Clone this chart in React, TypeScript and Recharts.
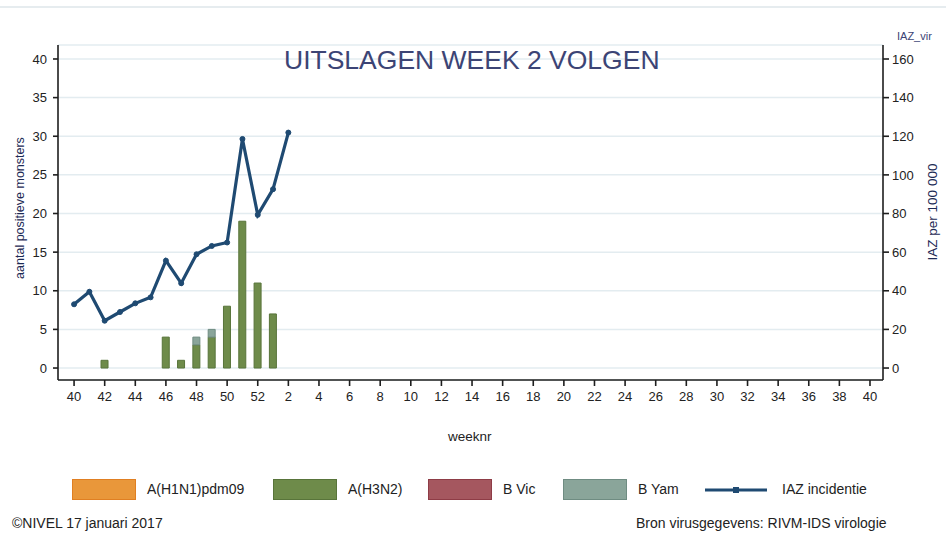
import { ComposedChart, Bar, Line, XAxis, YAxis, CartesianGrid } from "recharts";

// weeknummers van seizoen 2016/2017 (week 40 t/m week 40)
const weeks = [
  40, 41, 42, 43, 44, 45, 46, 47, 48, 49, 50, 51, 52, 1, 2, 3, 4, 5, 6, 7, 8, 9,
  10, 11, 12, 13, 14, 15, 16, 17, 18, 19, 20, 21, 22, 23, 24, 25, 26, 27, 28,
  29, 30, 31, 32, 33, 34, 35, 36, 37, 38, 39, 40,
];

// aantal positieve monsters per week (week 40 t/m week 2)
const h1n1 = [0, 0, 0, 0, 0, 0, 0, 0, 0, 0, 0, 0, 0, 0, 0];
const h3n2 = [0, 0, 1, 0, 0, 0, 4, 1, 3, 4, 8, 19, 11, 7, 0];
const bVic = [0, 0, 0, 0, 0, 0, 0, 0, 0, 0, 0, 0, 0, 0, 0];
const bYam = [0, 0, 0, 0, 0, 0, 0, 0, 1, 1, 0, 0, 0, 0, 0];

// IAZ incidentie per 100 000
const iaz = [
  33, 39.5, 24.5, 29, 33.5, 36.6, 55.6, 43.9, 58.9, 63.2, 65, 118.6, 79.3,
  92.6, 121.9,
];

const leftTicks = [0, 5, 10, 15, 20, 25, 30, 35, 40];
const rightTicks = [0, 20, 40, 60, 80, 100, 120, 140, 160];

const NAVY = "#1f4a72";
const FONT = "'Liberation Sans', Arial, sans-serif";
const TEXT = "#222";

const data = weeks.map((w, i) => ({
  pos: i,
  week: w,
  h1n1: i < h1n1.length ? h1n1[i] : null,
  h3n2: i < h3n2.length ? h3n2[i] : null,
  bVic: i < bVic.length ? bVic[i] : null,
  bYam: i < bYam.length ? bYam[i] : null,
  iaz: i < iaz.length ? iaz[i] : null,
}));

const xTicks = weeks.map((_, i) => i).filter((i) => i % 2 === 0);

const legendItems = [
  { name: "A(H1N1)pdm09", fill: "#e9973a", stroke: "#e07f22", left: 72 },
  { name: "A(H3N2)", fill: "#6e8b4a", stroke: "#58743a", left: 273 },
  { name: "B Vic", fill: "#a5575f", stroke: "#8e3c46", left: 428 },
  { name: "B Yam", fill: "#8aa59a", stroke: "#6f8c82", left: 563 },
];

const tickStyle = { fill: TEXT, fontSize: 13, fontFamily: FONT };
const axisLine = { stroke: "#1e1e1e", strokeWidth: 1.6 };

export default function App() {
  return (
    <div
      style={{
        position: "absolute",
        left: 0,
        top: 0,
        width: 946,
        height: 533,
        background: "#fff",
        fontFamily: FONT,
        color: TEXT,
      }}
    >
      <div
        style={{
          position: "absolute",
          left: 0,
          top: 6,
          width: 946,
          height: 2,
          background: "#e6ecef",
        }}
      />
      <ComposedChart
        width={946}
        height={533}
        data={data}
        margin={{ top: 45, left: 18, right: 23, bottom: 123 }}
        barGap={0}
      >
        <CartesianGrid
          yAxisId="left"
          vertical={false}
          stroke="#e3ecf0"
          strokeWidth={1.5}
        />
        <XAxis
          type="number"
          dataKey="pos"
          domain={[-1.05, 52.85]}
          allowDataOverflow
          ticks={xTicks}
          interval={0}
          tickFormatter={(i: number) => String(weeks[i])}
          height={30}
          tickSize={6}
          tickMargin={6}
          tick={tickStyle}
          axisLine={axisLine}
          tickLine={axisLine}
        />
        <YAxis
          yAxisId="left"
          orientation="left"
          width={40}
          domain={[-1.55, 41.81]}
          allowDataOverflow
          ticks={leftTicks}
          interval={0}
          tickSize={5}
          tickMargin={6}
          tick={tickStyle}
          axisLine={axisLine}
          tickLine={axisLine}
        />
        <YAxis
          yAxisId="right"
          orientation="right"
          width={40}
          domain={[-6.2, 167.25]}
          allowDataOverflow
          ticks={rightTicks}
          interval={0}
          tickSize={6}
          tickMargin={3}
          tick={{ ...tickStyle, textAnchor: "start" }}
          axisLine={axisLine}
          tickLine={axisLine}
        />
        <Bar
          yAxisId="left"
          dataKey="h3n2"
          stackId="v"
          barSize={7}
          fill="#6e8b4a"
          stroke="#58743a"
          strokeWidth={1}
          isAnimationActive={false}
        />
        <Bar
          yAxisId="left"
          dataKey="bYam"
          stackId="v"
          barSize={7}
          fill="#8aa59a"
          stroke="#6f8c82"
          strokeWidth={1}
          isAnimationActive={false}
        />
        <Bar
          yAxisId="left"
          dataKey="h1n1"
          stackId="v"
          barSize={7}
          fill="#e9973a"
          isAnimationActive={false}
        />
        <Bar
          yAxisId="left"
          dataKey="bVic"
          stackId="v"
          barSize={7}
          fill="#a5575f"
          isAnimationActive={false}
        />
        <Line
          yAxisId="right"
          dataKey="iaz"
          stroke={NAVY}
          strokeWidth={3.2}
          dot={{ r: 2.5, fill: NAVY, stroke: NAVY, strokeWidth: 1 }}
          connectNulls={false}
          isAnimationActive={false}
        />
      </ComposedChart>

      <div
        style={{
          position: "absolute",
          left: 284,
          top: 45,
          width: 374,
          fontSize: 26.5,
          color: "#3c4475",
          whiteSpace: "nowrap",
          textAlign: "center",
        }}
      >
        UITSLAGEN WEEK 2 VOLGEN
      </div>
      <div
        style={{
          position: "absolute",
          left: 897,
          top: 30,
          fontSize: 11,
          color: "#3c4475",
        }}
      >
        IAZ_vir
      </div>
      <div
        style={{
          position: "absolute",
          left: 20,
          top: 208,
          fontSize: 12.5,
          color: "#1d2a55",
          whiteSpace: "nowrap",
          transform: "translate(-50%, -50%) rotate(-90deg)",
        }}
      >
        aantal positieve monsters
      </div>
      <div
        style={{
          position: "absolute",
          left: 932,
          top: 212,
          fontSize: 13.5,
          color: "#1d2a55",
          whiteSpace: "nowrap",
          transform: "translate(-50%, -50%) rotate(-90deg)",
        }}
      >
        IAZ per 100 000
      </div>
      <div
        style={{
          position: "absolute",
          left: 448,
          top: 429,
          fontSize: 13.5,
        }}
      >
        weeknr
      </div>

      {legendItems.map((it) => (
        <div key={it.name}>
          <div
            style={{
              position: "absolute",
              left: it.left,
              top: 479,
              width: 62,
              height: 19,
              background: it.fill,
              border: `1px solid ${it.stroke}`,
            }}
          />
          <div
            style={{
              position: "absolute",
              left: it.left + 75,
              top: 481,
              fontSize: 14,
              whiteSpace: "nowrap",
            }}
          >
            {it.name}
          </div>
        </div>
      ))}
      <svg
        style={{ position: "absolute", left: 704, top: 483 }}
        width={64}
        height={14}
      >
        <line x1={1} y1={7} x2={63} y2={7} stroke={NAVY} strokeWidth={3} />
        <rect x={29} y={4} width={6} height={6} fill={NAVY} />
      </svg>
      <div
        style={{
          position: "absolute",
          left: 782,
          top: 481,
          fontSize: 14,
          whiteSpace: "nowrap",
        }}
      >
        IAZ incidentie
      </div>

      <div
        style={{
          position: "absolute",
          left: 12,
          top: 515,
          fontSize: 14,
          whiteSpace: "nowrap",
        }}
      >
        ©NIVEL 17 januari 2017
      </div>
      <div
        style={{
          position: "absolute",
          left: 636,
          top: 515,
          fontSize: 14,
          whiteSpace: "nowrap",
        }}
      >
        Bron virusgegevens: RIVM-IDS virologie
      </div>
    </div>
  );
}
